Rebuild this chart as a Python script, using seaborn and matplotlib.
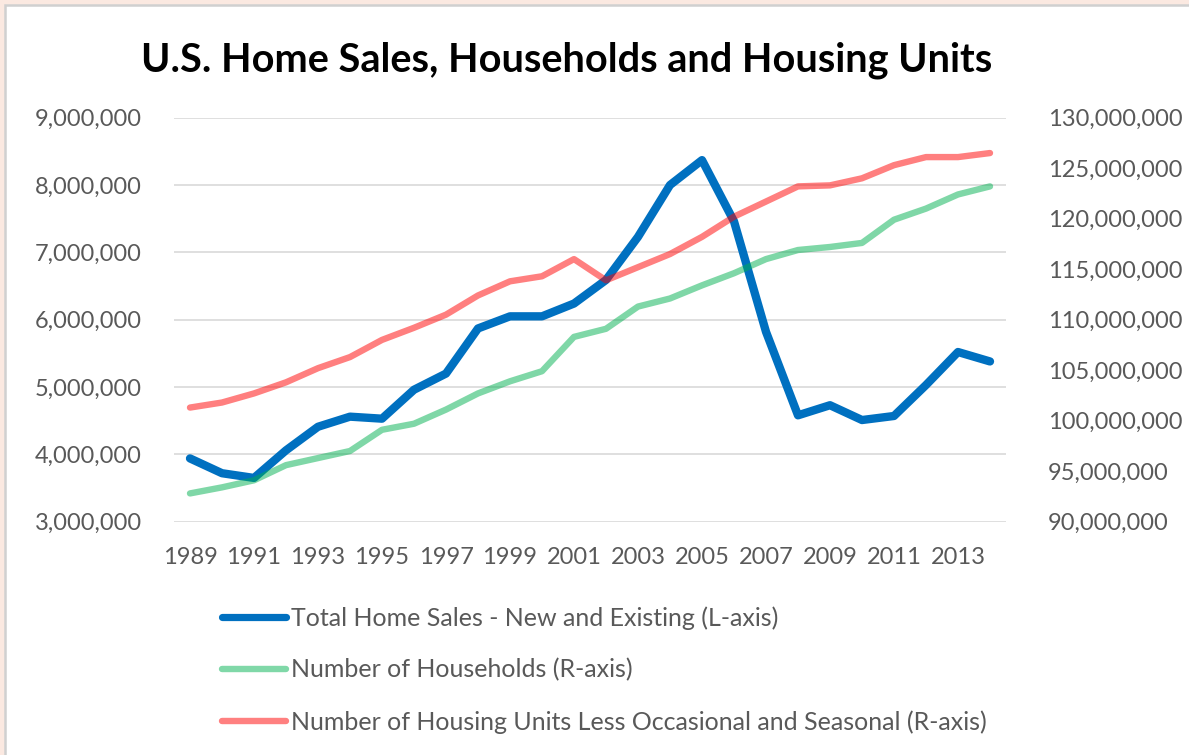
import matplotlib
matplotlib.use("Agg")
import matplotlib.pyplot as plt
import matplotlib.ticker as mtick
from matplotlib.patches import Rectangle
import pandas as pd
import seaborn as sns

# ─── Data ─────────────────────────────────────────────────────────
years = list(range(1989, 2015))

home_sales = [3940000, 3720000, 3650000, 4060000, 4410000, 4560000, 4530000,
              4960000, 5200000, 5870000, 6050000, 6050000, 6240000, 6590000,
              7230000, 8000000, 8370000, 7460000, 5820000, 4580000, 4730000,
              4510000, 4570000, 5030000, 5520000, 5380000]

households = [92800000, 93400000, 94100000, 95600000, 96300000, 97000000, 99100000,
              99700000, 101100000, 102700000, 103900000, 104900000, 108300000,
              109100000, 111300000, 112100000, 113400000, 114600000, 116000000,
              116900000, 117200000, 117600000, 119900000, 121000000, 122400000,
              123200000]

housing_units = [101300000, 101800000, 102700000, 103800000, 105200000, 106300000,
                 108000000, 109200000, 110500000, 112400000, 113800000, 114300000,
                 116000000, 113900000, 115200000, 116500000, 118200000, 120200000,
                 121700000, 123200000, 123300000, 124000000, 125300000, 126100000,
                 126100000, 126500000]

labels = ["Total Home Sales - New and Existing (L-axis)",
          "Number of Households (R-axis)",
          "Number of Housing Units Less Occasional and Seasonal (R-axis)"]

df = pd.DataFrame({"year": years, "sales": home_sales,
                   "households": households, "units": housing_units})

sns.set_theme(style="white")
plt.rcParams["font.family"] = ["Lato", "DejaVu Sans"]

TICK_GRAY = "#595959"
BLUE = "#0070C0"
GREEN = "#00B050"
RED = "#FF0000"

fig = plt.figure(figsize=(11.89, 7.55), dpi=100)

# frame: peach strip and gray border like the screenshot
fig.patches.append(Rectangle((0, 0), 1, 1, transform=fig.transFigure,
                             facecolor="#FBE9E1", edgecolor="none", zorder=-3))
fig.patches.append(Rectangle((5 / 1189, -0.05), 1.1, 1 - 5 / 755 + 0.05,
                             transform=fig.transFigure, facecolor="white",
                             edgecolor="#D0D0D0", linewidth=1.8, zorder=-2))

ax = fig.add_axes([174 / 1189, 1 - 521.7 / 755, 832 / 1189, 404 / 755])
ax.set_facecolor("none")
ax2 = ax.twinx()

sns.lineplot(data=df, x="year", y="sales", ax=ax, color=BLUE, linewidth=6.0,
             solid_capstyle="round", solid_joinstyle="round", label=labels[0], legend=False)
sns.lineplot(data=df, x="year", y="households", ax=ax2, color=GREEN, alpha=0.5,
             linewidth=4.6, solid_capstyle="round", solid_joinstyle="round",
             label=labels[1], legend=False)
sns.lineplot(data=df, x="year", y="units", ax=ax2, color=RED, alpha=0.5,
             linewidth=4.6, solid_capstyle="round", solid_joinstyle="round",
             label=labels[2], legend=False)

ax.set_xlim(1988.5, 2014.5)
ax.set_ylim(3000000, 9000000)
ax2.set_ylim(90000000, 130000000)
ax.set_xticks(range(1989, 2014, 2))
ax.yaxis.set_major_locator(mtick.MultipleLocator(1000000))
ax2.yaxis.set_major_locator(mtick.MultipleLocator(5000000))
fmt = mtick.FuncFormatter(lambda v, p: f"{v:,.0f}")
ax.yaxis.set_major_formatter(fmt)
ax2.yaxis.set_major_formatter(fmt)

ax.grid(axis="y", color="#D9D9D9", linewidth=1.2)
ax.set_axisbelow(True)
for a in (ax, ax2):
    for s in a.spines.values():
        s.set_visible(False)
    a.set_xlabel("")
    a.set_ylabel("")
    a.tick_params(length=0, labelsize=17, labelcolor=TICK_GRAY)
ax.tick_params(axis="y", pad=23)
ax2.tick_params(axis="y", pad=30)
ax.tick_params(axis="x", pad=18)

fig.text(567 / 1189, 1 - 60 / 755, "U.S. Home Sales, Households and Housing Units",
         ha="center", va="center", fontsize=28.5, fontweight="bold", color="black")

handles = ax.get_lines()[:1] + ax2.get_lines()[:2]
leg = fig.legend(handles, labels, loc="upper left",
                 bbox_to_anchor=(222 / 1189, 1 - 606 / 755), frameon=False,
                 borderpad=0, borderaxespad=0,
                 fontsize=18, handlelength=2.55, handletextpad=0.2,
                 labelspacing=1.15, labelcolor=TICK_GRAY)
for h in leg.get_lines():
    h.set_alpha(None)
leg.get_lines()[0].set_linewidth(5.2)
leg.get_lines()[1].set_color("#80D8A8")
leg.get_lines()[2].set_color("#FF8080")

fig.savefig("out.png", dpi=100)
